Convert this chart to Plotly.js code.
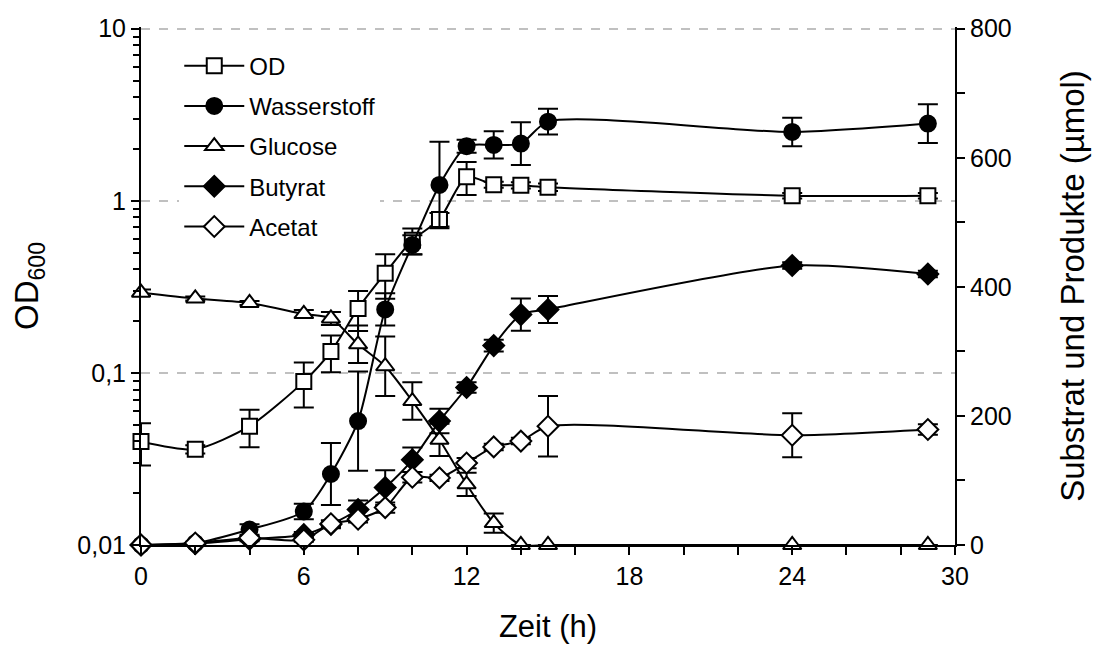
<!DOCTYPE html>
<html>
<head>
<meta charset="utf-8">
<script src="https://cdn.plot.ly/plotly-3.0.1.min.js"></script>
<style>html,body{margin:0;padding:0;background:#fff;}#chart{width:1101px;height:659px;}</style>
</head>
<body>
<div id="chart"></div>
<script>
// Time (h)
const zeit = [0, 2, 4, 6, 7, 8, 9, 10, 11, 12, 13, 14, 15, 24, 29];
// OD600 (left, log axis)
const od = [0.040, 0.036, 0.049, 0.089, 0.133, 0.237, 0.38, 0.59, 0.78, 1.38, 1.24, 1.23, 1.20, 1.07, 1.07];
const odErr = [0.011, 0.002, 0.012, 0.026, 0.032, 0.062, 0.11, 0.10, 0.07, 0.30, 0.05, 0.05, 0.06, 0.04, 0.04];
// Products / substrate (µmol, right axis)
const wasserstoff = [0, 3, 24, 52, 110, 192, 365, 465, 558, 618, 620, 622, 656, 640, 653];
const wasserstoffErr = [0, 2, 8, 12, 48, 77, 25, 15, 67, 10, 21, 33, 20, 22, 30];
const glucose = [391, 382, 375, 358, 351, 311, 277, 223, 163, 94, 34, 0, 0, 0, 0];
const glucoseErr = [5, 3, 3, 6, 10, 29, 46, 29, 25, 18, 15, 0, 0, 0, 0];
const butyrat = [0, 2, 9, 16, 32, 55, 89, 132, 192, 244, 309, 357, 365, 433, 420];
const butyratErr = [0, 0, 3, 4, 6, 14, 27, 19, 19, 8, 9, 25, 21, 5, 5];
const acetat = [0, 3, 11, 8, 33, 40, 58, 105, 104, 127, 152, 161, 184, 170, 179];
const acetatErr = [0, 0, 3, 3, 5, 5, 8, 8, 5, 8, 5, 5, 47, 34, 8];

const leftTickVals = [0.01, 0.1, 1, 10];
const leftTickText = ['0,01', '0,1', '1', '10'];
const seriesNames = ['OD', 'Wasserstoff', 'Glucose', 'Butyrat', 'Acetat'];

function errBar(arr) {
  return {type: 'data', array: arr, visible: true, color: '#000', thickness: 2, width: 10};
}
function mk(name, y, err, axis, symbol, fill, size) {
  return {
    type: 'scatter', mode: 'lines+markers', name: name, legendgroup: name,
    x: zeit, y: y, yaxis: axis, cliponaxis: false,
    line: {color: '#000', width: 2, shape: 'spline', smoothing: 0.7},
    marker: {symbol: symbol, size: size, color: fill, line: {color: '#000', width: 2}},
    error_y: errBar(err)
  };
}

const traces = [
  mk(seriesNames[0], od, odErr, 'y', 'square', '#fff', 15),
  mk(seriesNames[1], wasserstoff, wasserstoffErr, 'y2', 'circle', '#000', 16),
  mk(seriesNames[2], glucose, glucoseErr, 'y2', 'triangle-up', '#fff', 16),
  mk(seriesNames[3], butyrat, butyratErr, 'y2', 'diamond', '#000', 16),
  mk(seriesNames[4], acetat, acetatErr, 'y2', 'diamond', '#fff', 16)
];

// a slight headroom above 10 keeps the top dashed gridline drawn
const logTop = 1.01;
const rightTop = 800 * (logTop + 2) / 3;

const layout = {
  width: 1101, height: 659,
  margin: {l: 141, r: 146, t: 27, b: 114},
  paper_bgcolor: '#fff', plot_bgcolor: 'rgba(0,0,0,0)',
  font: {family: 'Liberation Sans, Arial, sans-serif', size: 25, color: '#000'},
  showlegend: true,
  legend: {
    x: 0.047, y: 0.968, xanchor: 'left', yanchor: 'top',
    bgcolor: '#fff', borderwidth: 0,
    font: {size: 24, color: '#000'},
    itemwidth: 60, tracegroupgap: 6, traceorder: 'grouped'
  },
  xaxis: {
    range: [0, 30], tickvals: [0, 6, 12, 18, 24, 30],
    showgrid: false, zeroline: false,
    showline: true, linecolor: '#000', linewidth: 2,
    ticks: 'outside', ticklen: 8, tickwidth: 2, tickcolor: '#000',
    minor: {tickvals: [2, 4, 8, 10, 14, 16, 20, 22, 26, 28], ticks: 'outside', ticklen: 8, tickwidth: 2, tickcolor: '#000', showgrid: false},
    tickfont: {size: 25},
    title: {text: 'Zeit (h)', font: {size: 31}, standoff: 26},
    automargin: false
  },
  yaxis: {
    type: 'log', range: [-2, logTop],
    tickvals: leftTickVals, ticktext: leftTickText,
    showgrid: true, gridcolor: '#c0c0c0', gridwidth: 2, griddash: 'dash',
    zeroline: false,
    showline: true, linecolor: '#000', linewidth: 2,
    ticks: 'outside', ticklen: 8, tickwidth: 2, tickcolor: '#000',
    minor: {tickvals: [0.02,0.03,0.04,0.05,0.06,0.07,0.08,0.09,0.2,0.3,0.4,0.5,0.6,0.7,0.8,0.9,2,3,4,5,6,7,8,9], ticks: 'outside', ticklen: 6, tickwidth: 2, tickcolor: '#000', showgrid: false},
    tickfont: {size: 25},
    title: {text: 'OD<sub>600</sub>', font: {size: 33}, standoff: 29},
    automargin: false
  },
  yaxis2: {
    overlaying: 'y', side: 'right', anchor: 'x',
    range: [0, rightTop], tickvals: [0, 200, 400, 600, 800],
    showgrid: false, zeroline: false,
    showline: true, linecolor: '#000', linewidth: 2,
    ticks: 'outside', ticklen: 8, tickwidth: 2, tickcolor: '#000',
    minor: {tickvals: [100, 300, 500, 700], ticks: 'outside', ticklen: 8, tickwidth: 2, tickcolor: '#000', showgrid: false},
    tickfont: {size: 25},
    title: {text: 'Substrat und Produkte (µmol)', font: {size: 33}, standoff: 50},
    automargin: false
  }
};

Plotly.newPlot('chart', traces, layout, {displayModeBar: false, staticPlot: true});
</script>
</body>
</html>
